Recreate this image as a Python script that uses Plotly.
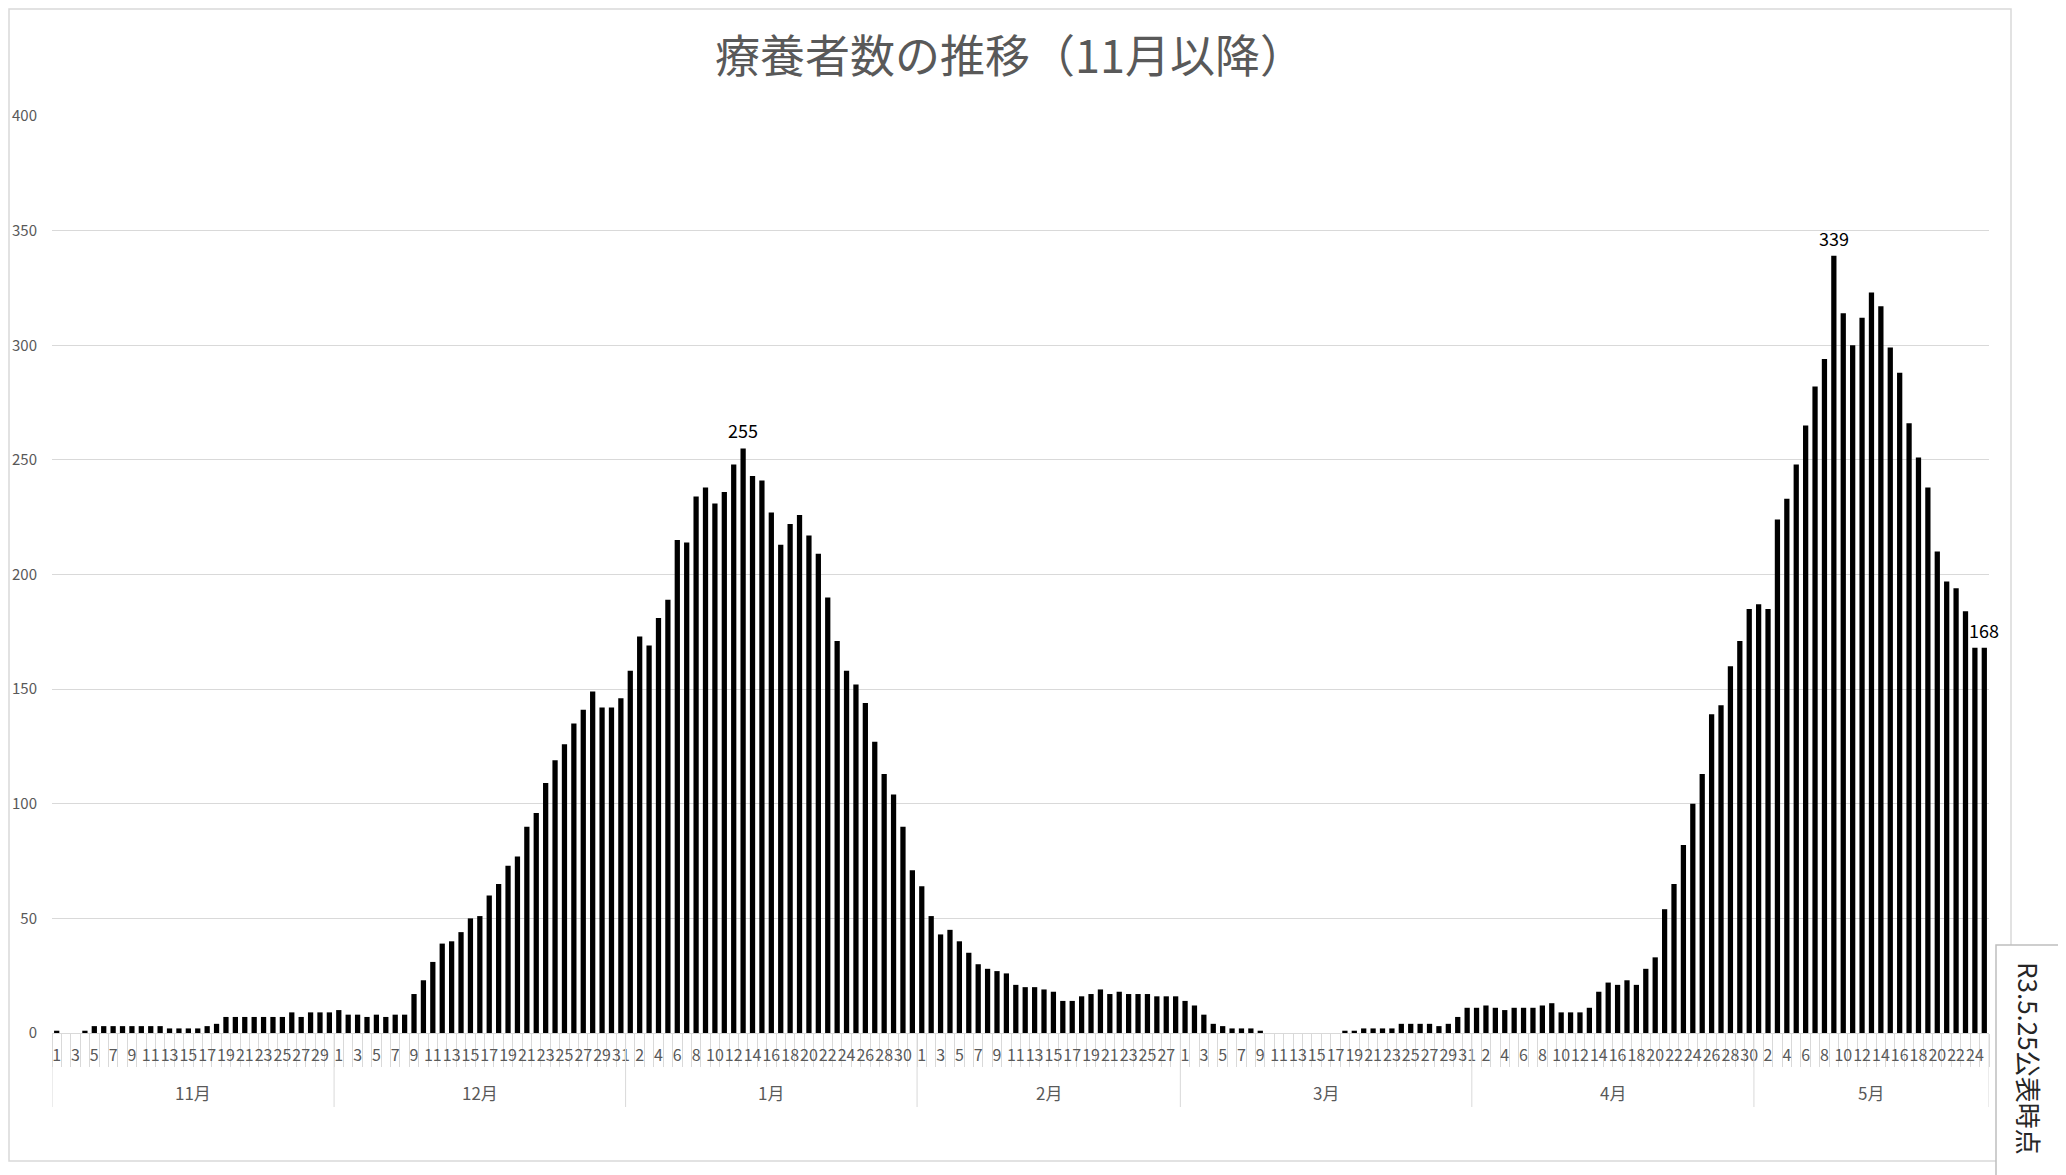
import plotly.graph_objects as go

# ---- data ----
months = ["11月", "12月", "1月", "2月", "3月", "4月", "5月"]
nov = [1, 0, 0, 1, 3, 3, 3, 3, 3, 3, 3, 3, 2, 2, 2, 2, 3, 4, 7, 7, 7, 7, 7, 7, 7, 9, 7, 9, 9, 9]
dec = [10, 8, 8, 7, 8, 7, 8, 8, 17, 23, 31, 39, 40, 44, 50, 51, 60, 65, 73, 77, 90, 96, 109, 119, 126,
       135, 141, 149, 142, 142, 146]
jan = [158, 173, 169, 181, 189, 215, 214, 234, 238, 231, 236, 248, 255, 243, 241, 227, 213, 222, 226,
       217, 209, 190, 171, 158, 152, 144, 127, 113, 104, 90, 71]
feb = [64, 51, 43, 45, 40, 35, 30, 28, 27, 26, 21, 20, 20, 19, 18, 14, 14, 16, 17, 19, 17, 18, 17, 17,
       17, 16, 16, 16]
mar = [14, 12, 8, 4, 3, 2, 2, 2, 1, 0, 0, 0, 0, 0, 0, 0, 0, 1, 1, 2, 2, 2, 2, 4, 4, 4, 4, 3, 4, 7, 11]
apr = [11, 12, 11, 10, 11, 11, 11, 12, 13, 9, 9, 9, 11, 18, 22, 21, 23, 21, 28, 33, 54, 65, 82, 100,
       113, 139, 143, 160, 171, 185]
may = [187, 185, 224, 233, 248, 265, 282, 294, 339, 314, 300, 312, 323, 317, 299, 288, 266, 251, 238,
       210, 197, 194, 184, 168, 168]
monthly = [nov, dec, jan, feb, mar, apr, may]
labelled = [("1月", 13), ("5月", 9), ("5月", 25)]   # (month, day) with data labels
title = "療養者数の推移（11月以降）"
stamp = "R3.5.25公表時点"

# ---- build series ----
values, days, month_of = [], [], []
for m, vals in zip(months, monthly):
    for d, v in enumerate(vals, start=1):
        values.append(v)
        days.append(d)
        month_of.append(m)
n = len(values)
idx = list(range(n))

OFF = 8  # page body margin: screenshot px = figure px + OFF
W, H = 2066, 1175
X0, X1 = 52 - OFF, 1989 - OFF      # plot area left/right (figure px)
Y0, Y1 = 116 - OFF, 1033 - OFF     # plot area top/bottom (figure px)
L, R, T, B = X0, W - X1, Y0, H - Y1
pw, ph = X1 - X0, Y1 - Y0


def px2x(px):  # screenshot px -> paper x
    return (px - OFF - X0) / pw


def py2y(py):  # screenshot px -> paper y
    return (Y1 - (py - OFF)) / ph


FONT = "'Noto Sans CJK JP', sans-serif"
GRAY = "#595959"
LINE = "#d9d9d9"

fig = go.Figure(go.Bar(x=idx, y=values, marker=dict(color="black", line_width=0),
                       hoverinfo="skip"))

# data labels
annotations = []
for m, d in labelled:
    i = next(k for k in idx if month_of[k] == m and days[k] == d)
    annotations.append(dict(x=i, y=values[i], xref="x", yref="y", text=str(values[i]),
                            showarrow=False, yanchor="bottom", yshift=3,
                            font=dict(family=FONT, size=18, color="black")))

# month labels and separators
shapes = []
start = 0
bounds = [start]
for m, vals in zip(months, monthly):
    end = start + len(vals)
    annotations.append(dict(x=(start + end - 1) / 2, y=py2y(1092), xref="x", yref="paper",
                            text=m, showarrow=False, yanchor="middle",
                            font=dict(family=FONT, size=17, color=GRAY)))
    bounds.append(end)
    start = end
for b in bounds:
    shapes.append(dict(type="line", xref="x", yref="paper", x0=b - 0.5, x1=b - 0.5,
                       y0=0, y1=py2y(1107), line=dict(color=LINE, width=1)))

# outer chart frame
shapes.append(dict(type="rect", xref="paper", yref="paper", x0=px2x(OFF + 1), x1=px2x(2011),
                   y0=py2y(1161), y1=py2y(OFF + 1), line=dict(color=LINE, width=1.5), layer="below"))
# stamp box
shapes.append(dict(type="rect", xref="paper", yref="paper", x0=px2x(1996), x1=px2x(2059),
                   y0=py2y(1190), y1=py2y(945), line=dict(color="#bfbfbf", width=1.5),
                   fillcolor="white", layer="above"))
annotations.append(dict(x=px2x(2030), y=py2y(1058), xref="paper", yref="paper", text=stamp,
                        textangle=90, showarrow=False, xanchor="center", yanchor="middle",
                        font=dict(family=FONT, size=26, color="#262626")))

fig.update_layout(
    width=W, height=H,
    margin=dict(l=L, r=R, t=T, b=B, autoexpand=False),
    paper_bgcolor="white", plot_bgcolor="white",
    bargap=0.44,
    showlegend=False,
    title=dict(text=title, x=1002 / W, xref="container", xanchor="center",
               y=1 - (57 - OFF) / H, yref="container", yanchor="middle",
               font=dict(family=FONT, size=45, color=GRAY)),
    annotations=annotations,
    shapes=shapes,
)
fig.update_xaxes(range=[-0.5, n - 0.5], tickmode="array", automargin=False,
                 tickvals=idx[::2], ticktext=[str(d) for d in days[::2]],
                 ticks="", showgrid=False, zeroline=False,
                 showline=True, linecolor=LINE, linewidth=1,
                 tickfont=dict(family=FONT, size=16, color=GRAY), tickangle=0,
                 ticklabelstandoff=8,
                 minor=dict(tickmode="array", tickvals=[i - 0.5 for i in range(n + 1)],
                            ticks="outside", ticklen=33, tickcolor=LINE, tickwidth=1,
                            showgrid=False))
fig.update_yaxes(range=[0, 400], dtick=50, showgrid=True, gridcolor=LINE, gridwidth=1,
                 automargin=False, zeroline=False, showline=False, ticks="",
                 tickfont=dict(family=FONT, size=15, color=GRAY), ticklabelstandoff=14)

fig.write_html("out.html")
